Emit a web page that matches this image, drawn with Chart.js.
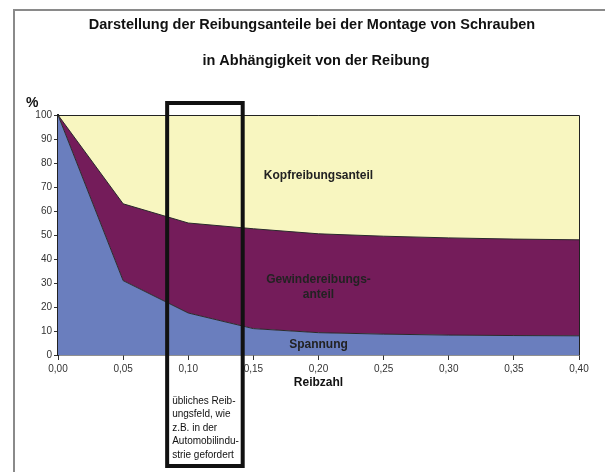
<!DOCTYPE html>
<html>
<head>
<meta charset="utf-8">
<script src="https://cdn.jsdelivr.net/npm/chart.js@4.4.1/dist/chart.umd.min.js"></script>
<style>
html,body{margin:0;padding:0;background:#fff;}
#wrap{position:relative;width:605px;height:472px;}
canvas{display:block;}
</style>
</head>
<body>
<div id="wrap"><canvas id="c" width="605" height="472"></canvas></div>
<script>
// ---- data ----
const reibzahl = [0.00, 0.05, 0.10, 0.15, 0.20, 0.25, 0.30, 0.35, 0.40];
const spannung = [100, 31, 17.5, 11, 9.3, 8.7, 8.3, 8.1, 8];
const gewindereibung = [0, 32, 37.5, 41.6, 41.2, 40.8, 40.5, 40.2, 40];
const kopfreibung = [0, 37, 45, 47.4, 49.5, 50.5, 51.2, 51.7, 52];
const xTicks = [0, 0.05, 0.10, 0.15, 0.20, 0.25, 0.30, 0.35, 0.40];
const yTicks = [0, 10, 20, 30, 40, 50, 60, 70, 80, 90, 100];
const titleLines = ['Darstellung der Reibungsanteile bei der Montage von Schrauben', 'in Abhängigkeit von der Reibung'];
const areaLabels = [
  {text: 'Kopfreibungsanteil', x: 0.20, y: 74.6},
  {text: 'Gewindereibungs-', x: 0.20, y: 31.2},
  {text: 'anteil', x: 0.20, y: 25.0},
  {text: 'Spannung', x: 0.20, y: 4.2}
];
const boxRange = [0.0838, 0.1418];
const boxText = ['übliches Reib-', 'ungsfeld, wie', 'z.B. in der', 'Automobilindu-', 'strie gefordert'];

const pts = arr => reibzahl.map((x, i) => ({x: x, y: arr[i]}));
const fmt = v => Number(v).toFixed(2).replace('.', ',');
const FONT = '"Liberation Sans", Arial, sans-serif';

const decor = {
  id: 'decor',
  beforeDraw(chart) {
    const ctx = chart.ctx;
    ctx.save();
    ctx.fillStyle = '#fff';
    ctx.fillRect(0, 0, chart.width, chart.height);
    ctx.strokeStyle = '#8a8a8a';
    ctx.lineWidth = 2;
    ctx.beginPath();
    ctx.moveTo(14, 472); ctx.lineTo(14, 10); ctx.lineTo(605, 10);
    ctx.stroke();
    ctx.restore();
  },
  afterDraw(chart) {
    const ctx = chart.ctx, xs = chart.scales.x, ys = chart.scales.y, a = chart.chartArea;
    ctx.save();
    // plot frame
    ctx.strokeStyle = '#222';
    ctx.lineWidth = 1;
    ctx.beginPath();
    ctx.moveTo(a.left, a.top + 0.5); ctx.lineTo(a.right + 0.5, a.top + 0.5); ctx.lineTo(a.right + 0.5, a.bottom);
    ctx.stroke();
    // titles
    ctx.fillStyle = '#111';
    ctx.textAlign = 'center';
    ctx.textBaseline = 'middle';
    ctx.font = 'bold 14.5px ' + FONT;
    ctx.fillText(titleLines[0], 312, 25);
    ctx.fillText(titleLines[1], 316, 61);
    ctx.font = 'bold 14px ' + FONT;
    ctx.textAlign = 'left';
    ctx.fillText('%', 26, 103);
    ctx.textAlign = 'center';
    ctx.font = 'bold 12px ' + FONT;
    ctx.fillText('Reibzahl', xs.getPixelForValue(0.20), 383);
    // area labels
    ctx.font = 'bold 12px ' + FONT;
    ctx.fillStyle = '#222';
    areaLabels.forEach(l => ctx.fillText(l.text, xs.getPixelForValue(l.x), ys.getPixelForValue(l.y)));
    // highlight box
    const bl = xs.getPixelForValue(boxRange[0]), br = xs.getPixelForValue(boxRange[1]);
    ctx.strokeStyle = '#111';
    ctx.lineWidth = 4;
    ctx.strokeRect(bl, a.top - 12, br - bl, 466 - (a.top - 12));
    ctx.font = '10px ' + FONT;
    ctx.fillStyle = '#111';
    ctx.textAlign = 'left';
    boxText.forEach((t, i) => ctx.fillText(t, bl + 5, 401 + i * 13.5));
    ctx.restore();
  }
};

new Chart(document.getElementById('c'), {
  type: 'line',
  data: {
    datasets: [
      {label: 'Spannung', data: pts(spannung), backgroundColor: '#6a7ebe', borderColor: '#2a2a2a', borderWidth: 1, fill: 'origin', pointRadius: 0, tension: 0},
      {label: 'Gewindereibungsanteil', data: pts(gewindereibung), backgroundColor: '#741c5a', borderColor: '#2a2a2a', borderWidth: 1, fill: '-1', pointRadius: 0, tension: 0},
      {label: 'Kopfreibungsanteil', data: pts(kopfreibung), backgroundColor: '#f8f6c0', borderColor: '#2a2a2a', borderWidth: 1, fill: '-1', pointRadius: 0, tension: 0}
    ]
  },
  options: {
    responsive: false,
    animation: false,
    devicePixelRatio: 1,
    layout: {padding: {left: 0, top: 115, right: 26, bottom: 0}},
    plugins: {legend: {display: false}, title: {display: false}, tooltip: {enabled: false}},
    scales: {
      x: {
        type: 'linear', min: 0, max: 0.4,
        afterBuildTicks: s => { s.ticks = xTicks.map(v => ({value: v})); },
        afterFit: s => { s.height = 472 - 355; },
        ticks: {callback: v => fmt(v), font: {family: FONT, size: 10}, color: '#333', padding: 3, maxRotation: 0, autoSkip: false},
        grid: {drawOnChartArea: false, drawTicks: true, tickLength: 5, color: '#333', offset: false},
        border: {display: true, color: '#222', width: 1.5}
      },
      y: {
        stacked: true, min: 0, max: 100,
        afterBuildTicks: s => { s.ticks = yTicks.map(v => ({value: v})); },
        afterFit: s => { s.width = 58; },
        ticks: {font: {family: FONT, size: 10}, color: '#333', padding: 2},
        grid: {drawOnChartArea: false, drawTicks: true, tickLength: 4, color: '#333'},
        border: {display: true, color: '#222', width: 2}
      }
    }
  },
  plugins: [decor]
});
</script>
</body>
</html>
